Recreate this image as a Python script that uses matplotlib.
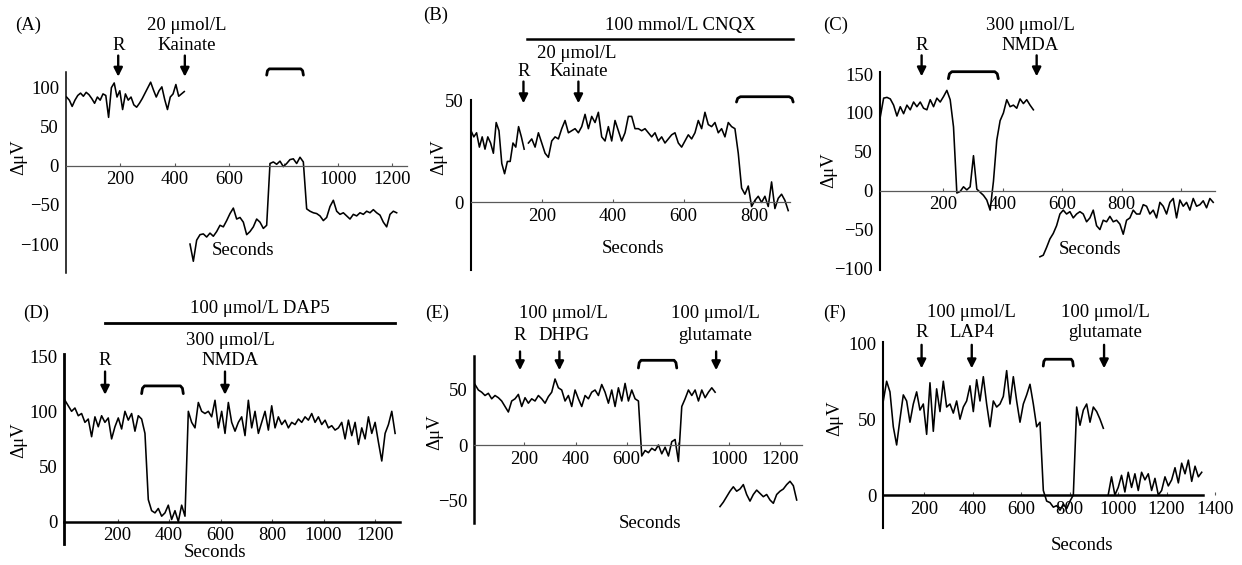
import numpy as np
import matplotlib.pyplot as plt

plt.rcParams['font.family'] = ['Liberation Serif', 'DejaVu Serif']
plt.rcParams['font.size'] = 13.5

W, H = 1242, 565

# ---- traces (values in microvolts) ----
# (A) kainate
a_span1 = (2, 435)
a_vals1 = [88, 84, 76, 84, 90, 93, 89, 94, 91, 86, 80, 88, 84, 92, 90, 62, 100, 106, 88, 96,
           72, 92, 84, 88, 78, 75, 80, 86, 93, 100, 107, 97, 88, 96, 101, 85, 72, 88, 92, 104,
           89, 92, 95]
a_span2 = (456, 1216)
a_vals2 = [-100, -122, -95, -88, -87, -91, -86, -90, -84, -76, -78, -70, -61, -54, -68, -66,
           -72, -88, -84, -78, -68, -72, -80, -76,
           3, 5, 2, 6, -1, 3, 8, 9, 3, 11, 5,
           -55, -58, -60, -61, -64, -70, -66, -52, -44, -58, -62, -60, -64, -68, -62, -64,
           -60, -62, -58, -60, -56, -60, -63, -72, -78, -62, -58, -60]

# (B) CNQX + kainate
b_span1 = (0, 150)
b_vals1 = [35, 32, 34, 27, 32, 26, 32, 29, 24, 39, 35, 19, 14, 20, 20, 29, 27, 37, 32, 26]
b_span2 = (162, 895)
b_vals2 = [29, 31, 27, 34, 29, 24, 22, 30, 32, 31,
           36, 40, 34, 35, 36, 34, 37, 43, 36, 42,
           39, 44, 32, 30, 37, 30, 40, 35, 30, 34,
           42, 42, 36, 36, 35, 36, 34, 32, 34, 30,
           32, 29, 31, 33, 34, 29, 27, 30, 33, 31,
           34, 40, 36, 44, 38, 37, 39, 34, 36, 32,
           39, 37, 36, 24, 7, 4, 8, -2, 1, 3,
           0, 3, -2, 10, -3, 2, 4, 1, -4]

# (C) NMDA
c_span1 = (-12, 503)
c_vals1 = [95, 119, 120, 118, 110, 96, 108, 99, 110, 104,
           114, 108, 114, 106, 104, 117, 108, 119, 114, 121,
           129, 117, 82, -3, -1, 5, 1, 5, 45, 2,
           -2, -6, -12, -25, 12, 65, 90, 100, 117, 108,
           110, 106, 118, 112, 117, 110, 104]
c_span2 = (525, 1108)
c_vals2 = [-85, -83, -73, -62, -55, -45, -30, -25, -30, -27,
           -35, -30, -27, -30, -40, -35, -25, -45, -50, -38,
           -40, -33, -40, -38, -43, -56, -38, -35, -25, -30,
           -30, -18, -20, -30, -25, -35, -15, -20, -30, -15,
           -10, -35, -12, -20, -15, -25, -10, -20, -18, -13,
           -22, -10, -15]

# (D) DAP5 + NMDA
d_span = (-5, 1278)
d_pre = [110, 105, 100, 103, 96, 98, 90, 93, 77, 95, 86, 96, 90, 94, 75, 86, 94, 84, 100, 92,
         98, 82, 96, 93, 80]
d_low = [20, 10, 8, 12, 5, 8, 15, 2, 10, 0, 15, 5]
d_post = [100, 90, 85, 108, 100, 98, 100, 95, 110, 85,
          100, 80, 108, 90, 82, 90, 95, 78, 110, 85,
          100, 80, 90, 100, 83, 105, 85, 95, 88, 92,
          85, 90, 88, 93, 90, 95, 92, 98, 90, 95,
          88, 92, 85, 87, 83, 85, 90, 75, 92, 78,
          90, 70, 85, 75, 95, 80, 90, 72, 55, 80,
          88, 100, 80]

# (E) DHPG
e_span1 = (7, 946)
e_vals1 = [55, 50, 48, 45, 47, 42, 45, 43, 40, 35,
           30, 40, 42, 46, 35, 43, 38, 42, 40, 45,
           42, 38, 44, 48, 60, 52, 50, 40, 45, 35,
           50, 42, 35, 45, 42, 48, 50, 45, 55, 48,
           38, 50, 35, 52, 40, 56, 40, 50, 42, 40,
           -10, -5, -7, -3, -5, 0, -8, -2, -10, 3, 5, -15,
           35, 42, 50, 45, 50, 40, 50, 43, 48, 52, 48]
e_span2 = (965, 1265)
e_vals2 = [-56, -52, -47, -42, -38, -42, -40, -36, -45, -51, -45, -41,
           -44, -47, -45, -50, -53, -45, -42, -40, -36, -33, -37, -50]

# (F) LAP4
f_span1 = (31, 939)
f_vals1 = [62, 75, 68, 45, 33, 50, 66, 62, 48, 60,
           68, 56, 60, 40, 74, 42, 70, 55, 75, 58,
           60, 54, 62, 50, 58, 62, 72, 55, 76, 62,
           78, 60, 45, 62, 58, 60, 65, 82, 60, 78,
           62, 48, 60, 66, 73, 60, 45, 48, 3, -4,
           -5, -8, -7, -10, -6, -9, -4, 0, 58, 46,
           56, 60, 48, 58, 55, 50, 44]
f_span2 = (959, 1345)
f_vals2 = [0, 12, 0, 5, 13, 2, 15, 5, 14, 3,
           15, 10, 14, 3, 11, 0, 3, 12, 6, 10,
           18, 8, 21, 14, 23, 9, 19, 12, 15]

fig = plt.figure(figsize=(W / 100, H / 100), dpi=100)


def make_ax(box, xlim, ylim, xticks, xlabels, yticks, bot_lw=0.9, bot_col='0.35', left_lw=1.4):
    x0, y0, x1, y1 = box
    ax = fig.add_axes([x0 / W, 1 - y1 / H, (x1 - x0) / W, (y1 - y0) / H])
    ax.patch.set_alpha(0)
    ax.set_xlim(*xlim)
    ax.set_ylim(*ylim)
    ax.spines['top'].set_visible(False)
    ax.spines['right'].set_visible(False)
    ax.spines['bottom'].set_position(('data', 0))
    ax.spines['bottom'].set_linewidth(bot_lw)
    ax.spines['bottom'].set_color(bot_col)
    ax.spines['left'].set_linewidth(left_lw)
    ax.set_xticks(xticks)
    ax.set_xticklabels(xlabels)
    ax.set_yticks(yticks)
    ax.tick_params(axis='x', direction='in', length=2.5, width=0.8, pad=4, colors='0.35',
                   labelcolor='k')
    ax.tick_params(axis='y', length=0, pad=5)
    return ax


def trace(ax, span, vals):
    t = np.linspace(span[0], span[1], len(vals))
    ax.plot(t, vals, color='k', lw=1.15)


def arrow(ax, x, ytop, ybot):
    ax.annotate('', xy=(x, ybot), xytext=(x, ytop), annotation_clip=False,
                arrowprops=dict(arrowstyle='-|>', color='k', lw=1.7, mutation_scale=13,
                                shrinkA=0, shrinkB=0))


def bracket(ax, x0, x1, ytop, ytip):
    d = (x1 - x0) * 0.07
    ax.plot([x0, x0 + d * 0.3, x0 + d, x1 - d, x1 - d * 0.3, x1],
            [ytip, ytop - (ytop - ytip) * 0.3, ytop, ytop, ytop - (ytop - ytip) * 0.3, ytip],
            color='k', lw=2.0, clip_on=False, solid_capstyle='round')


def txt(ax, x, y, s, ha='center', rot=0):
    ax.text(x, y, s, ha=ha, va='center', rotation=rot, clip_on=False)


# ---- (A) ----
ax = make_ax((66, 72, 407, 273), (0, 1254), (-137, 120),
             [200, 400, 600, 800, 1000, 1200], ['200', '400', '600', '', '1000', '1200'],
             [-100, -50, 0, 50, 100], left_lw=1.1)
trace(ax, a_span1, a_vals1)
trace(ax, a_span2, a_vals2)
txt(ax, -187, 180, '(A)', ha='left')
txt(ax, 444, 180, '20 μmol/L')
txt(ax, 444, 154, 'Kainate')
txt(ax, 192, 154, 'R')
arrow(ax, 192, 141, 114)
arrow(ax, 437, 141, 114)
bracket(ax, 738, 873, 124, 116)
txt(ax, 652, -108, 'Seconds')
txt(ax, -175, 11.5, 'ΔμV', rot=90)

# ---- (B) ----
ax = make_ax((471, 100, 790, 270), (0, 900), (-33, 50),
             [200, 400, 600, 800], ['200', '400', '600', '800'], [0, 50], left_lw=1.5)
trace(ax, b_span1, b_vals1)
trace(ax, b_span2, b_vals2)
txt(ax, -134, 91.5, '(B)', ha='left')
txt(ax, 590, 86.6, '100 mmol/L CNQX')
ax.plot([157, 909], [80, 80], color='k', lw=1.8, clip_on=False)
txt(ax, 298, 72.8, '20 μmol/L')
txt(ax, 303, 63.8, 'Kainate')
txt(ax, 148, 63.8, 'R')
arrow(ax, 148, 59, 48.4)
arrow(ax, 303, 59, 48.4)
bracket(ax, 749, 909, 51.6, 49)
txt(ax, 458, -22.5, 'Seconds')
txt(ax, -92, 22.3, 'ΔμV', rot=90)

# ---- (C) ----
ax = make_ax((880, 71.7, 1215, 270), (-13, 1114), (-102, 153),
             [200, 400, 600, 800, 1000], ['200', '400', '600', '800', ''],
             [-100, -50, 0, 50, 100, 150], left_lw=1.5)
trace(ax, c_span1, c_vals1)
trace(ax, c_span2, c_vals2)
txt(ax, -203, 213, '(C)', ha='left')
txt(ax, 492, 213, '300 μmol/L')
txt(ax, 492, 187, 'NMDA')
txt(ax, 127, 187, 'R')
arrow(ax, 127, 174, 147)
arrow(ax, 514, 174, 147)
bracket(ax, 217, 385, 153, 144)
txt(ax, 693, -76, 'Seconds')
txt(ax, -187, 26.6, 'ΔμV', rot=90)

# ---- (D) ----
ax = make_ax((64.4, 353.9, 400, 543.8), (-7, 1297), (-20, 152),
             [200, 400, 600, 800, 1000, 1200], ['200', '400', '600', '800', '1000', '1200'],
             [0, 50, 100, 150], bot_lw=1.8, bot_col='k', left_lw=2.0)
trace(ax, d_span, d_pre + d_low + d_post)
txt(ax, -167, 189, '(D)', ha='left')
txt(ax, 753, 193, '100 μmol/L DAP5')
ax.plot([151, 1278], [180, 180], color='k', lw=2.0, clip_on=False)
txt(ax, 637, 164.5, '300 μmol/L')
txt(ax, 637, 146, 'NMDA')
txt(ax, 151, 146, 'R')
arrow(ax, 151, 136, 115)
arrow(ax, 617, 136, 115)
bracket(ax, 293, 455, 123, 116)
txt(ax, 578, -28, 'Seconds')
txt(ax, -186, 74, 'ΔμV', rot=90)

# ---- (E) ----
ax = make_ax((474.5, 355.9, 801.8, 523.1), (5, 1285), (-71, 81),
             [200, 400, 600, 800, 1000, 1200], ['200', '400', '600', '', '1000', '1200'],
             [-50, 0, 50], left_lw=1.8)
trace(ax, e_span1, e_vals1)
trace(ax, e_span2, e_vals2)
txt(ax, -189, 120, '(E)', ha='left')
txt(ax, 353, 120, '100 μmol/L')
txt(ax, 183, 100, 'R')
txt(ax, 353, 100, 'DHPG')
arrow(ax, 183, 85, 68)
arrow(ax, 337, 85, 68)
txt(ax, 946, 120, '100 μmol/L')
txt(ax, 946, 100, 'glutamate')
arrow(ax, 950, 85, 68)
bracket(ax, 646, 796, 77, 70)
txt(ax, 692, -71, 'Seconds')
txt(ax, -149, 12, 'ΔμV', rot=90)

# ---- (F) ----
ax = make_ax((883.3, 341.8, 1219.9, 528.4), (31, 1420), (-22, 101),
             [200, 400, 600, 800, 1000, 1200, 1400],
             ['200', '400', '600', '800', '1000', '1200', '1400'],
             [0, 50, 100], bot_lw=1.8, bot_col='k', left_lw=1.5)
ax.spines['bottom'].set_bounds(31, 1352)
trace(ax, f_span1, f_vals1)
trace(ax, f_span2, f_vals2)
txt(ax, -217, 120, '(F)', ha='left')
txt(ax, 396, 120, '100 μmol/L')
txt(ax, 396, 107, 'LAP4')
txt(ax, 189, 107, 'R')
arrow(ax, 189, 99, 83.5)
arrow(ax, 396, 99, 83.5)
txt(ax, 946, 120, '100 μmol/L')
txt(ax, 946, 107, 'glutamate')
arrow(ax, 942, 99, 83.5)
bracket(ax, 691, 815, 89.5, 85)
txt(ax, 850, -33, 'Seconds')
txt(ax, -168, 50.5, 'ΔμV', rot=90)

fig.savefig('out.png', dpi=100)
